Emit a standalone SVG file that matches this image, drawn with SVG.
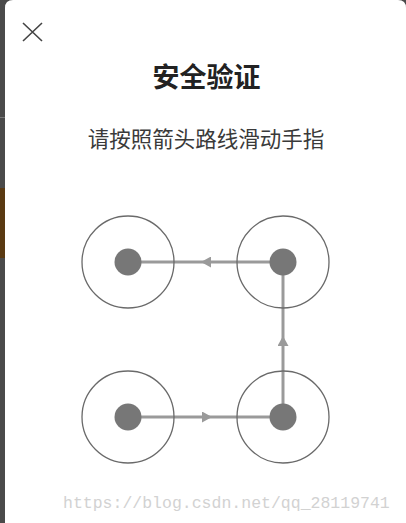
<svg xmlns="http://www.w3.org/2000/svg" width="406" height="523" viewBox="0 0 406 523">
<style>
.ring{fill:none;stroke:#6a6a6a;stroke-width:1.3}
.dot{fill:#777777}
.conn{fill:none;stroke:#9a9a9a;stroke-width:3;marker-mid:url(#arr)}
.cjk{font-family:"Noto Sans CJK SC","Noto Sans",sans-serif;text-anchor:middle}
</style>
<defs>
<marker id="arr" markerUnits="userSpaceOnUse" viewBox="0 0 10 11" markerWidth="10" markerHeight="11" refX="5" refY="5.5" orient="auto">
<path d="M0,0 L10,5.5 L0,11 z" fill="#9a9a9a"/>
</marker>
</defs>
<rect x="0" y="0" width="406" height="523" fill="#4a4a4a"/>
<rect x="0" y="188" width="5" height="70" fill="#5a3a12"/>
<rect x="0" y="117" width="5" height="1" fill="#777"/>
<path d="M13,0 H398 Q406,0 406,8 V523 H5 V8 Q5,0 13,0 Z" fill="#ffffff"/>
<g id="close">
<path d="M23,23 L42,41 M42,23 L23,41" stroke="#444" stroke-width="1.6" fill="none"/>
</g>
<g id="title">
<text x="206.5" y="87" class="cjk" font-size="27" font-weight="bold" fill="#222">安全验证</text>
</g>
<g id="subtitle">
<text x="206" y="147" class="cjk" font-size="21.5" fill="#3a3a3a">请按照箭头路线滑动手指</text>
</g>
<g id="connectors">
<path class="conn" d="M128,417 L207,417 L283,417"/>
<path class="conn" d="M283,417 L283,341 L283,262"/>
<path class="conn" d="M283,262 L206,262 L128,262"/>
</g>
<g id="node-tl"><circle class="ring" cx="128" cy="262" r="46"/><circle class="dot" cx="128" cy="262" r="13.5"/></g>
<g id="node-tr"><circle class="ring" cx="283" cy="262" r="46"/><circle class="dot" cx="283" cy="262" r="13.5"/></g>
<g id="node-bl"><circle class="ring" cx="128" cy="417" r="46"/><circle class="dot" cx="128" cy="417" r="13.5"/></g>
<g id="node-br"><circle class="ring" cx="283" cy="417" r="46"/><circle class="dot" cx="283" cy="417" r="13.5"/></g>
<g id="watermark">
<text x="63" y="508" font-family="Liberation Mono, monospace" font-size="16.5" fill="#d2d2d2">https://blog.csdn.net/qq_28119741</text>
</g>
</svg>
